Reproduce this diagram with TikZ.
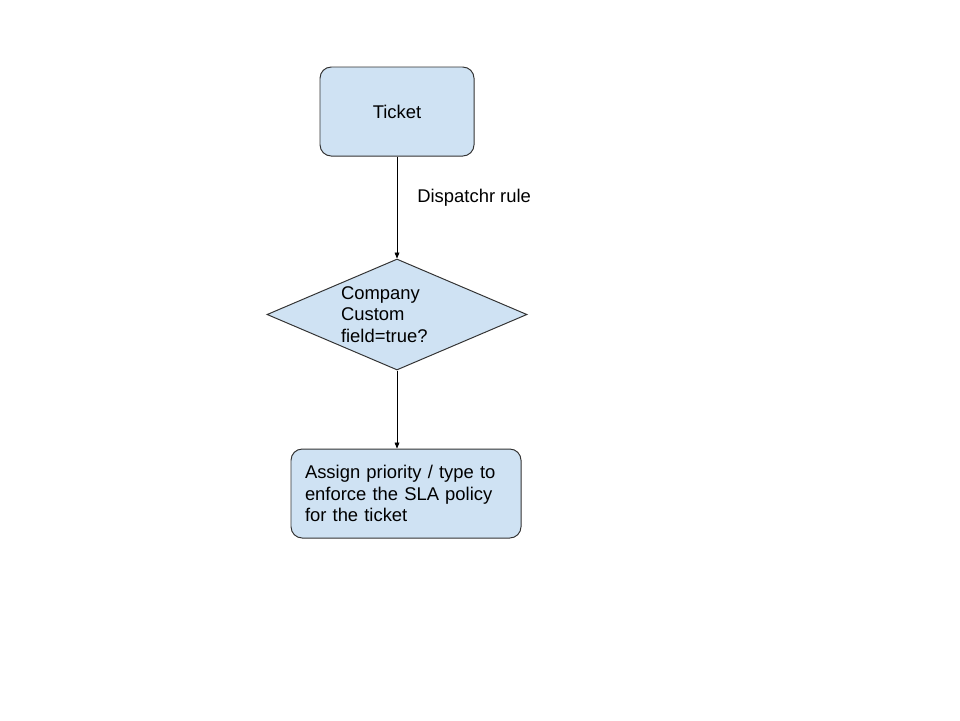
\documentclass[tikz,border=0pt]{standalone}
\usepackage{fontspec}
\setmainfont{Liberation Sans}
\usetikzlibrary{arrows.meta,positioning,shapes.geometric}
\definecolor{boxblue}{HTML}{CFE2F3}
\definecolor{boxline}{HTML}{333333}

\begin{document}
\begin{tikzpicture}[
  font=\fontsize{13.1}{15.5}\selectfont,
  block/.style={
    rectangle,
    rounded corners=8pt,
    draw=boxline,
    fill=boxblue,
    line width=.7pt,
    minimum height=2.225cm,
    inner sep=0pt
  },
  decision/.style={
    diamond,
    aspect=2.34,
    draw=boxline,
    fill=boxblue,
    line width=.7pt,
    inner sep=0pt,
    minimum width=6.5cm,
    minimum height=2.775cm,
    text width=2.8cm,
    align=left
  },
  flow/.style={-{Triangle[length=1.5mm,width=1.2mm]}, draw=black, line width=.5pt}
]

\useasboundingbox (0,0) rectangle (24,-18);

\node[block, minimum width=3.85cm, align=center] (ticket) at (9.925,-2.7875)
  {Ticket};
\node[decision] (check) at (9.925,-7.8625)
  {Company\\Custom\\field=true?};
\node[block, minimum width=5.75cm, text width=5.05cm, align=left] (assign) at (10.15,-12.3375)
  {Assign priority / type to\\enforce the SLA policy\\for the ticket};

\draw[flow] (ticket.south) -- node[pos=0.4, right=5mm, inner sep=0pt] (rulelabel) {Dispatchr rule} (check.north);
\draw[flow] (check.south) -- (check.south |- assign.north);
\end{tikzpicture}
\end{document}
